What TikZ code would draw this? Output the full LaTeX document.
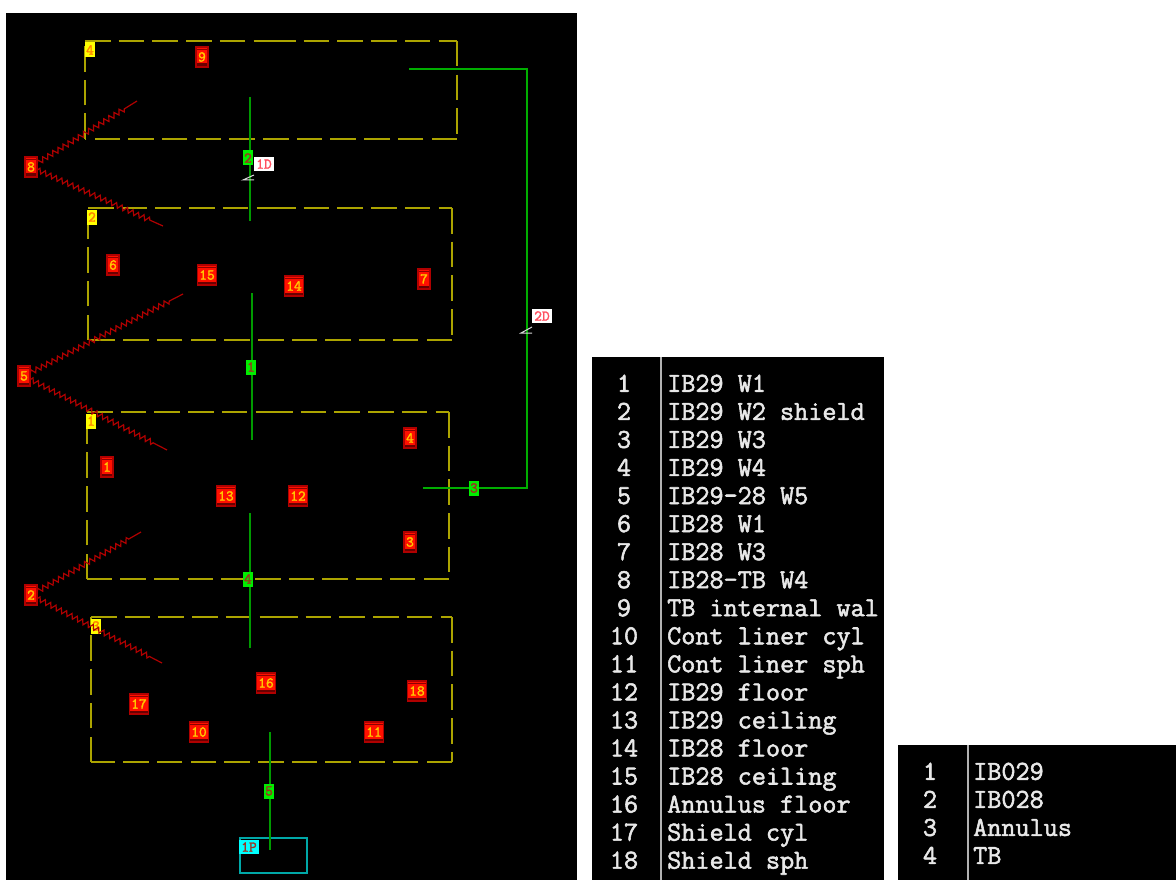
\documentclass[tikz,border=0pt]{standalone}
\usepackage{fontspec}
\newfontfamily\tablefont{Latin Modern Mono}[FakeBold=2]
\newfontfamily\tagfont{Latin Modern Mono}[FakeBold=2]
\usetikzlibrary{decorations.pathmorphing}
\definecolor{wallred}{HTML}{B00000}
\definecolor{boxred}{HTML}{FF1000}
\definecolor{olive}{HTML}{ACA400}
\definecolor{pipegreen}{HTML}{009A00}
\definecolor{pipebright}{HTML}{00AE00}
\definecolor{tagteal}{HTML}{00A8A8}
\definecolor{tablegrey}{HTML}{E8E8E8}
\definecolor{tagyellow}{HTML}{FFFF00}
\definecolor{taggreen}{HTML}{00EE00}
\definecolor{tagcyan}{HTML}{00FFFF}
\definecolor{tagorange}{HTML}{FF8000}
\definecolor{tagtext}{HTML}{FFC800}
\definecolor{darktext}{HTML}{A03020}
\definecolor{pinktext}{HTML}{FF5060}
\tikzset{
  panel/.style={fill=black,draw=none},
  room/.style={draw=olive,line width=1.9pt,dash pattern=on 25.5pt off 8.2pt},
  pipe/.style={draw=pipegreen,line width=2.2pt},
  longpipe/.style={draw=pipebright,line width=2pt,line join=miter},
  wall/.style={draw=wallred,line width=1.2pt,decorate,decoration={zigzag,segment length=6pt,amplitude=2.5pt,post=lineto,post length=14pt}},
  tick/.style={draw=white!85!black,line width=1pt},
  tagbase/.style={font=\tagfont\fontsize{15}{15}\selectfont,inner sep=0pt,minimum height=15pt,minimum width=10pt,align=center},
  redtag/.style={tagbase,fill=boxred,draw=wallred,line width=1.4pt,text=tagtext,minimum height=20pt,minimum width=11pt,inner xsep=2pt,
    path picture={\fill[wallred!60!black] ([yshift=3.5pt]path picture bounding box.south west) rectangle (path picture bounding box.south east);
      \fill[wallred!80!black] ([yshift=-2pt]path picture bounding box.north west) rectangle ([yshift=-3pt]path picture bounding box.north east);}},
  yellowtag/.style={tagbase,fill=tagyellow,text=tagorange},
  greentag/.style={tagbase,fill=taggreen,text=darktext},
  whitetag/.style={tagbase,fill=white,text=pinktext,minimum width=20pt,minimum height=14pt},
  cyantag/.style={tagbase,fill=tagcyan,text=darktext,minimum width=20pt,minimum height=14pt},
  tabletext/.style={font=\tablefont\fontsize{27.4}{28}\selectfont,text=tablegrey,inner sep=0pt},
  sep/.style={draw=white!70!black,line width=2.2pt},
  cyanbox/.style={draw=tagteal,line width=1.6pt}
}
% left, top, right, bottom, midpoint of the top edge
\newcommand{\roomrect}[5]{%
  \draw[room] (#3,#4) -- (#1,#4);
  \draw[room] (#1,#4) -- (#1,#2);
  \draw[room] (#1,#2) -- (#5+7,#2);
  \draw[room] (#5,#2) -- (#3,#2);
  \draw[room] (#3,#2) -- (#3,#4);
}
\begin{document}
\begin{tikzpicture}[x=1pt,y=-1pt]
\useasboundingbox (0,0) rectangle (1176,880);
\fill[white] (0,0) rectangle (1176,880);
% panels
\path[panel] (6,13) rectangle (577,880);
\path[panel] (592,357) rectangle (884,880);
\path[panel] (898,745) rectangle (1176,880);
\coordinate (sepAtop) at (661,357); \coordinate (sepAbot) at (661,880);
\coordinate (sepBtop) at (968,745); \coordinate (sepBbot) at (968,880);
\draw[sep] (sepAtop) -- (sepAbot);
\draw[sep] (sepBtop) -- (sepBbot);
% rooms
\roomrect{85}{41}{457}{139}{270}
\roomrect{88}{208}{452}{340}{270}
\roomrect{87}{412}{449}{579}{267}
\roomrect{91}{617}{452}{762}{272}
% cyan box
\draw[cyanbox] (240,838) rectangle (307,873);
% green pipes
\coordinate (p2a) at (250,97);  \coordinate (p2b) at (250,221);
\coordinate (p1a) at (252,293); \coordinate (p1b) at (252,440);
\coordinate (p4a) at (250,513); \coordinate (p4b) at (250,648);
\coordinate (p5a) at (270,732); \coordinate (p5b) at (270,850);
\coordinate (p3a) at (409,69);  \coordinate (p3b) at (527,69);
\coordinate (p3c) at (527,488); \coordinate (p3d) at (423,488);
\draw[pipe] (p2a) -- (p2b);
\draw[pipe] (p1a) -- (p1b);
\draw[pipe] (p4a) -- (p4b);
\draw[pipe] (p5a) -- (p5b);
\draw[longpipe] (p3a) -- (p3b) -- (p3c) -- (p3d);
% green tags
\node[greentag] (g2) at (248,158) {2};
\node[greentag] (g1) at (251,367) {1};
\node[greentag] (g4) at (248,579) {4};
\node[greentag] (g5) at (269,791) {5};
\node[greentag] (g3) at (474,488) {3};
% yellow tags
\node[yellowtag] (y4) at (90,50) {4};
\node[yellowtag] (y2) at (92,217) {2};
\node[yellowtag] (y1) at (91,421) {1};
\node[yellowtag] (y3) at (96,626) {3};
% red wall nodes and lines
\node[redtag] (w8) at (31,167) {8};
\node[redtag] (w5) at (24,376) {5};
\node[redtag] (w2) at (31,595) {2};
\coordinate (w8a) at (137,101); \coordinate (w8b) at (163,226);
\coordinate (w5a) at (183,294); \coordinate (w5b) at (167,450);
\coordinate (w2a) at (141,532); \coordinate (w2b) at (162,663);
\draw[wall] (w8) -- (w8a); \draw[wall] (w8) -- (w8b);
\draw[wall] (w5) -- (w5a); \draw[wall] (w5) -- (w5b);
\draw[wall] (w2) -- (w2a); \draw[wall] (w2) -- (w2b);
% red number tags
\foreach \n/\px/\py in {9/202/57,6/113/265,15/207/275,14/294/286,7/424/279,4/410/438,1/107/467,13/226/496,12/298/496,3/410/542,17/139/704,16/266/683,18/417/691,10/199/732,11/374/732}
  \node[redtag] (r\n) at (\px,\py) {\n};
% D markers
\node[whitetag] (d1) at (264,164) {1D};
\node[whitetag] (d2) at (542,316) {2D};
\coordinate (d1a) at (243,180); \coordinate (d1b) at (254,175); \coordinate (d1c) at (254,180);
\coordinate (d2a) at (521,333); \coordinate (d2b) at (532,327); \coordinate (d2c) at (532,333);
\draw[tick] (d1b) -- (d1a) -- (d1c);
\draw[tick] (d2b) -- (d2a) -- (d2c);
\node[cyantag] (c1) at (249,847) {1P};
% table 1
\foreach \i/\t in {1/IB29 W1,2/IB29 W2 shield,3/IB29 W3,4/IB29 W4,5/IB29-28 W5,6/IB28 W1,7/IB28 W3,8/IB28-TB W4,9/TB internal wal,10/Cont liner cyl,11/Cont liner sph,12/IB29 floor,13/IB29 ceiling,14/IB28 floor,15/IB28 ceiling,16/Annulus floor,17/Shield cyl,18/Shield sph}{
  \pgfmathsetmacro{\ry}{391.8+28.05*(\i-1)}
  \node[tabletext,anchor=base] (na\i) at (624,\ry) {\i};
  \node[tabletext,anchor=base west] (ta\i) at (667,\ry) {\t};
}
% table 2
\foreach \i/\t in {1/IB029,2/IB028,3/Annulus,4/TB}{
  \pgfmathsetmacro{\ry}{779.8+28.05*(\i-1)}
  \node[tabletext,anchor=base] (nb\i) at (930,\ry) {\i};
  \node[tabletext,anchor=base west] (tb\i) at (973,\ry) {\t};
}
\end{tikzpicture}
\end{document}
